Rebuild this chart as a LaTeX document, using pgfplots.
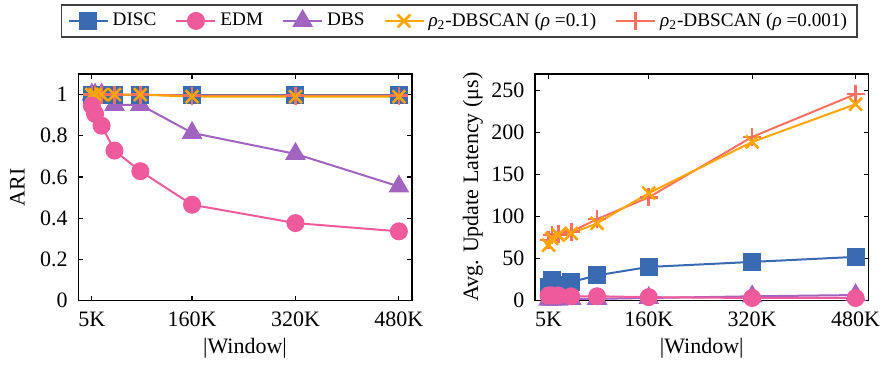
\documentclass[border=0pt]{standalone}
\usepackage{fontspec}
\setmainfont{Liberation Serif}
\usepackage{pgfplots}
\pgfplotsset{compat=1.18}

\definecolor{cDisc}{RGB}{58,106,177}
\definecolor{cEdm}{RGB}{238,90,155}
\definecolor{cDbs}{RGB}{161,100,191}
\definecolor{cRhoA}{RGB}{255,165,0}
\definecolor{cRhoB}{RGB}{255,112,98}

\pgfplotsset{
  sDisc/.style={color=cDisc, line width=1pt, mark=square*, mark size=4pt, mark options={solid}},
  sEdm/.style={color=cEdm, line width=1pt, mark=*, mark size=4pt, mark options={solid}},
  sDbs/.style={color=cDbs, line width=1pt, mark=triangle*, mark size=5pt, mark options={solid}},
  sRhoA/.style={color=cRhoA, line width=1pt, mark=x, mark size=4.5pt, mark options={solid, line width=1.3pt}},
  sRhoB/.style={color=cRhoB, line width=1pt, mark=+, mark size=4.5pt, mark options={solid, line width=1.3pt}},
  common/.style={
    scale only axis,
    width=166.75pt, height=113.25pt,
    xmin=-16, xmax=500,
    xtick={5,160,320,480},
    xticklabels={5K,160K,320K,480K},
    tick align=inside,
    xtick pos=both, ytick pos=both,
    major tick length=2.5pt,
    axis line style={line width=0.75pt},
    every tick/.style={black, line width=0.6pt},
    ticklabel style={font=\fontsize{11}{13}\selectfont},
    xticklabel style={yshift=-2.3pt},
    yticklabel style={xshift=-1.8pt},
    /pgf/number format/assume math mode=true,
    label style={font=\fontsize{11}{13}\selectfont},
    xlabel={|Window|},
    xlabel style={at={(axis description cs:0.5,-0.21)}, anchor=center},
  },
}

% window sizes (K) and measured values
\pgfplotstableread{
w    disc  edm    dbs   rhoA  rhoB
5    1.00  0.946  1.00  1.00  1.00
10   1.00  0.906  1.00  1.00  1.00
20   1.00  0.849  1.00  1.00  1.00
40   1.00  0.728  0.95  1.00  1.00
80   1.00  0.628  0.95  1.00  1.00
160  1.00  0.465  0.814 0.99  0.995
320  1.00  0.376  0.712 0.99  0.995
480  1.00  0.336  0.554 0.99  0.995
}\ari

\pgfplotstableread{
w    disc  edm  dbs  rhoA  rhoB
5    16    6    1    66    72
10   24    6    1    74    78
20   18    6    1    78    79
40   22    5    2    80    82
80   30    5    2    92    97
160  40    4    3    128   123
320  46    3    5    189   195
480  52    3    6.5  234   246
}\lat

\begin{document}
\begin{tikzpicture}
\begin{axis}[common,
  ymin=0, ymax=1.1,
  ytick={0,0.2,0.4,0.6,0.8,1},
  ylabel={ARI},
  ylabel style={at={(axis description cs:-0.183,0.5)}, anchor=center},
  legend columns=5,
  legend cell align=left,
  legend image code/.code={%
    \draw[mark repeat=2,mark phase=2] plot coordinates {(0pt,0pt) (9.75pt,0pt) (19.5pt,0pt)};},
  legend style={at={(axis description cs:-0.0519,1.309)}, anchor=north west,
    draw=black!75, line width=0.75pt,
    font=\fontsize{9.6}{12}\selectfont,
    inner xsep=3pt, inner ysep=2pt,
    /tikz/every even column/.append style={column sep=7.5pt}},
]
\addlegendimage{sDisc}\addlegendentry{DISC}
\addlegendimage{sEdm}\addlegendentry{EDM}
\addlegendimage{sDbs}\addlegendentry{DBS}
\addlegendimage{sRhoA}\addlegendentry{\textit{ρ}\textsubscript{2}-DBSCAN (\textit{ρ} =0.1)}
\addlegendimage{sRhoB}\addlegendentry{\textit{ρ}\textsubscript{2}-DBSCAN (\textit{ρ} =0.001)}
\addplot[sDbs, forget plot] table[x=w, y=dbs] {\ari};
\addplot[sDisc, forget plot] table[x=w, y=disc] {\ari};
\addplot[sRhoB, forget plot] table[x=w, y=rhoB] {\ari};
\addplot[sRhoA, forget plot] table[x=w, y=rhoA] {\ari};
\addplot[sEdm, forget plot] table[x=w, y=edm] {\ari};
\end{axis}

\begin{axis}[common,
  xshift=228.35pt,
  ymin=0, ymax=270,
  ytick={0,50,100,150,200,250},
  ylabel={Avg. Update Latency (μs)},
  ylabel style={at={(axis description cs:-0.186,0.5)}, anchor=center},
]
\addplot[sDbs] table[x=w, y=dbs] {\lat};
\addplot[sDisc] table[x=w, y=disc] {\lat};
\addplot[sRhoB] table[x=w, y=rhoB] {\lat};
\addplot[sRhoA] table[x=w, y=rhoA] {\lat};
\addplot[sEdm] table[x=w, y=edm] {\lat};
\end{axis}

\pgfresetboundingbox
\path[use as bounding box] (-39.15pt,-31.75pt) rectangle (401.35pt,150.25pt);
\end{tikzpicture}
\end{document}
